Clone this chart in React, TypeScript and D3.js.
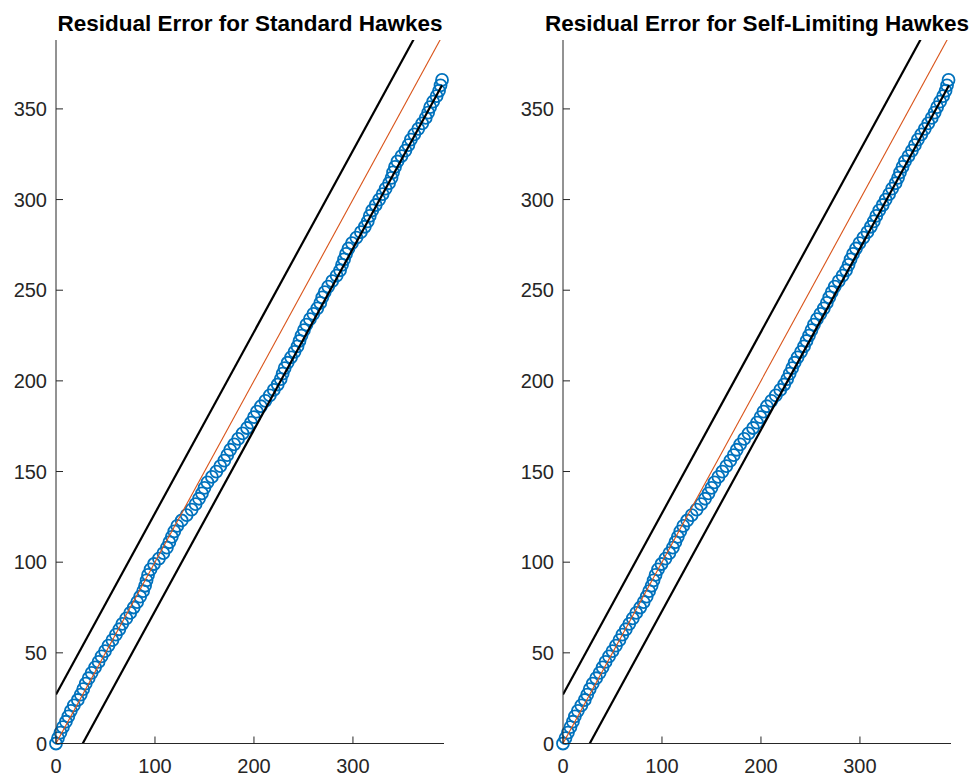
import * as d3 from 'd3';

const WIDTH = 971;
const HEIGHT = 776;

// Residual points [x, y]
const standardPts: [number, number][] = [
  [0, 0], [2, 3], [4.5, 6], [7, 9], [10, 12], [12.5, 15], [15, 18], [18, 21], [22, 24], [25, 27],
  [27.5, 30], [30, 33], [33, 36], [36, 39], [39.5, 42], [43, 45], [46, 48], [49.5, 51], [53, 54], [57, 57],
  [60.5, 60], [64, 63], [67, 66], [71, 69], [75, 72], [78.5, 75], [82, 78], [85, 81], [88, 84], [90, 87],
  [91.5, 90], [93, 93], [95.5, 96], [99, 99], [104, 102], [108.5, 105], [112, 108], [114.5, 111], [117, 114], [119.5, 117],
  [122.5, 120], [127, 123], [132, 126], [137, 129], [141, 132], [144.5, 135], [147.5, 138], [150, 141], [153, 144], [157.5, 147],
  [162, 150], [166, 153], [170, 156], [173, 159], [176, 162], [180, 165], [184, 168], [188.5, 171], [193, 174], [197, 177],
  [200, 180], [203, 183], [207, 186], [211.5, 189], [216, 192], [220, 195], [224, 198], [227, 201], [229, 204], [231, 207],
  [234, 210], [237.5, 213], [241, 216], [244, 219], [246, 222], [248, 225], [250.5, 228], [253, 231], [256.5, 234], [260, 237],
  [264, 240], [267, 243], [269, 246], [271.5, 249], [275, 252], [279, 255], [283.5, 258], [287, 261], [289, 264], [291, 267],
  [293, 270], [295.5, 273], [299, 276], [303.5, 279], [308, 282], [312, 285], [315, 288], [317, 291], [319.5, 294], [323, 297],
  [326.5, 300], [330, 303], [333, 306], [336.5, 309], [339, 312], [340.5, 315], [342.5, 318], [345, 321], [349, 324], [353, 327],
  [356, 330], [358.5, 333], [362, 336], [366, 339], [370, 342], [373.5, 345], [376, 348], [378, 351], [381, 354], [384.5, 357],
  [387, 360], [388.5, 363], [390, 366],
];

const selfLimitingPts: [number, number][] = [
  [0, 0], [2.5, 3], [5, 6], [7.5, 9], [10, 12], [12, 15], [15, 18], [18.5, 21], [22, 24], [24.5, 27],
  [27, 30], [30, 33], [33.5, 36], [37, 39], [40, 42], [43, 45], [46.5, 48], [50, 51], [53.5, 54], [57, 57],
  [60, 60], [63.5, 63], [67, 66], [70.5, 69], [74, 72], [78, 75], [81.5, 78], [84.5, 81], [87, 84], [89.5, 87],
  [91.5, 90], [93.5, 93], [96, 96], [99.5, 99], [103.5, 102], [107.5, 105], [111, 108], [113.5, 111], [116, 114], [118.5, 117],
  [121.5, 120], [125.5, 123], [130, 126], [135, 129], [139.5, 132], [143.5, 135], [147, 138], [150, 141], [153, 144], [157, 147],
  [161, 150], [165, 153], [169, 156], [172.5, 159], [175.5, 162], [179, 165], [183, 168], [187.5, 171], [192, 174], [196, 177],
  [199.5, 180], [202.5, 183], [206, 186], [210.5, 189], [215, 192], [219.5, 195], [223.5, 198], [226.5, 201], [229, 204], [231.5, 207],
  [234, 210], [237, 213], [240.5, 216], [243.5, 219], [246, 222], [248.5, 225], [251, 228], [253.5, 231], [256.5, 234], [260, 237],
  [263.5, 240], [266.5, 243], [269, 246], [271.5, 249], [274.5, 252], [278.5, 255], [282.5, 258], [286, 261], [288.5, 264], [290.5, 267],
  [293, 270], [296, 273], [299.5, 276], [303.5, 279], [307.5, 282], [311, 285], [314, 288], [316.5, 291], [319.5, 294], [323, 297],
  [326, 300], [329.5, 303], [332.5, 306], [336, 309], [338.5, 312], [340.5, 315], [343, 318], [345.5, 321], [349, 324], [352.5, 327],
  [355.5, 330], [358.5, 333], [362, 336], [365.5, 339], [369, 342], [372.5, 345], [375.5, 348], [378, 351], [381, 354], [384, 357],
  [386.5, 360], [388, 363], [389.5, 366],
];

// Reference lines: y = x and the +/- confidence band
const refX = [0, 390];
const BAND = 27;

const xTicks = [0, 100, 200, 300];
const yTicks = [0, 50, 100, 150, 200, 250, 300, 350];
const X_MAX = 392;
const Y_MAX = 388;

const TOP = 40;
const BOTTOM = 743.5;
const PANEL_W = 388;

const BLUE = '#0072BD';
const ORANGE = '#D95319';
const AXIS = '#262626';
const FONT = '"Liberation Sans", Arial, Helvetica, sans-serif';

function Panel({ left, title, pts, id }: { left: number; title: string; pts: [number, number][]; id: string }) {
  const x = d3.scaleLinear().domain([0, X_MAX]).range([left, left + PANEL_W]);
  const y = d3.scaleLinear().domain([0, Y_MAX]).range([BOTTOM, TOP]);
  const line = d3
    .line<[number, number]>()
    .x((d) => x(d[0]))
    .y((d) => y(d[1]));

  const diag: [number, number][] = refX.map((v) => [v, v]);
  const upper: [number, number][] = refX.map((v) => [v, v + BAND]);
  const lower: [number, number][] = [
    [BAND, 0],
    [refX[1], refX[1] - BAND],
  ];

  return (
    <g>
      <defs>
        <clipPath id={id}>
          <rect x={left - 8} y={TOP} width={PANEL_W + 16} height={BOTTOM - TOP + 8} />
        </clipPath>
        <clipPath id={`${id}-lines`}>
          <rect x={left} y={TOP} width={PANEL_W} height={BOTTOM - TOP} />
        </clipPath>
      </defs>
      <g clipPath={`url(#${id})`}>
        {pts.map((d, i) => (
          <circle key={i} cx={x(d[0])} cy={y(d[1])} r={6} fill="none" stroke={BLUE} strokeWidth={1.8} />
        ))}
      </g>
      <g clipPath={`url(#${id}-lines)`}>
        <path d={line(upper) ?? ''} fill="none" stroke="#000" strokeWidth={2.2} />
        <path d={line(lower) ?? ''} fill="none" stroke="#000" strokeWidth={2.2} />
        <path d={line(diag) ?? ''} fill="none" stroke={ORANGE} strokeWidth={1.1} />
      </g>

      {/* axes */}
      <line x1={left} x2={left} y1={TOP} y2={BOTTOM} stroke={AXIS} strokeWidth={1} />
      <line x1={left} x2={left + PANEL_W} y1={BOTTOM} y2={BOTTOM} stroke={AXIS} strokeWidth={1} />
      {yTicks.map((t) => (
        <g key={`y${t}`}>
          <line x1={left} x2={left + 7} y1={y(t)} y2={y(t)} stroke={AXIS} strokeWidth={1} />
          <text x={left - 9} y={y(t)} dy="0.35em" textAnchor="end" fontSize={20} fill={AXIS} fontFamily={FONT}>
            {t}
          </text>
        </g>
      ))}
      {xTicks.map((t) => (
        <g key={`x${t}`}>
          <line x1={x(t)} x2={x(t)} y1={BOTTOM} y2={BOTTOM - 7} stroke={AXIS} strokeWidth={1} />
          <text x={x(t)} y={773} textAnchor="middle" fontSize={20} fill={AXIS} fontFamily={FONT}>
            {t}
          </text>
        </g>
      ))}
      <text
        x={left + PANEL_W / 2}
        y={31}
        textAnchor="middle"
        fontSize={22.5}
        fontWeight="bold"
        fill="#000"
        fontFamily={FONT}
      >
        {title}
      </text>
    </g>
  );
}

export default function App() {
  return (
    <svg
      width={WIDTH}
      height={HEIGHT}
      viewBox={`0 0 ${WIDTH} ${HEIGHT}`}
      style={{ position: 'absolute', left: 0, top: 0, background: '#fff' }}
    >
      <Panel left={56} title="Residual Error for Standard Hawkes" pts={standardPts} id="clipA" />
      <Panel left={563} title="Residual Error for Self-Limiting Hawkes" pts={selfLimitingPts} id="clipB" />
    </svg>
  );
}
